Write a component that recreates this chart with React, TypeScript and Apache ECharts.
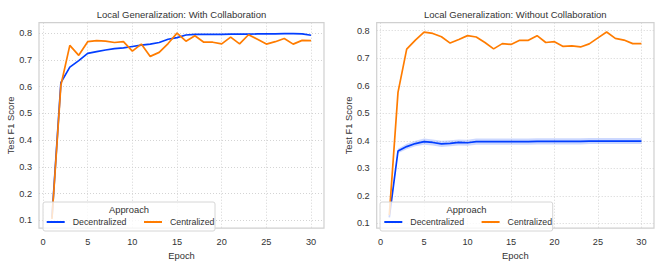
import React, { useEffect, useRef } from "react";
import * as echarts from "echarts";

const epochs = Array.from({ length: 30 }, (_, i) => i + 1);

const xTicks = [0, 5, 10, 15, 20, 25, 30];
const yTicks = [0.1, 0.2, 0.3, 0.4, 0.5, 0.6, 0.7, 0.8];

// Left panel: With Collaboration
const withDecentralized = [
  0.11, 0.615, 0.673, 0.697, 0.724, 0.731, 0.737, 0.742, 0.745, 0.75,
  0.755, 0.759, 0.765, 0.777, 0.783, 0.793, 0.795, 0.795, 0.795, 0.795,
  0.796, 0.796, 0.796, 0.797, 0.797, 0.797, 0.798, 0.798, 0.797, 0.792,
];
const withCentralized = [
  0.105, 0.605, 0.754, 0.717, 0.768, 0.772, 0.77, 0.765, 0.768, 0.733,
  0.759, 0.713, 0.728, 0.761, 0.8, 0.77, 0.79, 0.766, 0.766, 0.76,
  0.785, 0.76, 0.794, 0.777, 0.759, 0.768, 0.78, 0.759, 0.773, 0.772,
];

// Right panel: Without Collaboration
const withoutDecentralized = [
  0.122, 0.363, 0.379, 0.39, 0.397, 0.394, 0.389, 0.391, 0.394, 0.393,
  0.397, 0.397, 0.397, 0.397, 0.397, 0.397, 0.397, 0.398, 0.398, 0.398,
  0.398, 0.398, 0.398, 0.399, 0.399, 0.399, 0.399, 0.399, 0.399, 0.399,
];
const withoutDecentralizedSpread = [
  0.005, 0.008, 0.01, 0.01, 0.011, 0.011, 0.011, 0.011, 0.011, 0.011,
  0.011, 0.011, 0.011, 0.011, 0.011, 0.011, 0.011, 0.011, 0.011, 0.011,
  0.011, 0.011, 0.011, 0.011, 0.011, 0.011, 0.011, 0.011, 0.011, 0.011,
];
const withoutCentralized = [
  0.13, 0.576, 0.733, 0.766, 0.795, 0.79, 0.778, 0.755, 0.768, 0.782,
  0.777, 0.757, 0.734, 0.753, 0.75, 0.765, 0.765, 0.782, 0.757, 0.76,
  0.743, 0.745, 0.741, 0.752, 0.774, 0.795, 0.772, 0.766, 0.753, 0.753,
];

const titles = [
  "Local Generalization: With Collaboration",
  "Local Generalization: Without Collaboration",
];
const seriesNames = ["Decentralized", "Centralized"];
const legendTitle = "Approach";
const xName = "Epoch";
const yName = "Test F1 Score";

const BLUE = "#023eff";
const ORANGE = "#ff7c00";
const TEXT = "#333333";
const FONT = "Liberation Sans";

const pts = (vals: number[]) => vals.map((v, i) => [epochs[i], v]);

export default function App() {
  const ref = useRef<HTMLDivElement>(null);
  useEffect(() => {
    if (!ref.current) return;
    const chart = echarts.init(ref.current, undefined, { renderer: "svg" });

    const grids = [
      { left: 39, top: 22.7, width: 285, height: 211 },
      { left: 376.7, top: 22.7, width: 277.3, height: 211 },
    ];
    const yRanges = [
      [0.071, 0.839],
      [0.083, 0.829],
    ];

    const xAxes = grids.map((_, i) => ({
      type: "value",
      gridIndex: i,
      min: -0.45,
      max: 31.45,
      name: xName,
      nameLocation: "middle",
      nameGap: 21,
      nameTextStyle: { color: TEXT, fontSize: 9.4, fontFamily: FONT },
      axisLine: { show: false },
      axisTick: { show: false, customValues: xTicks },
      axisLabel: {
        customValues: xTicks,
        color: TEXT,
        fontSize: 9.2,
        fontFamily: FONT,
        margin: 9,
      },
      splitLine: {
        show: true,
        lineStyle: { color: "#cfcfcf", type: [1, 2], width: 0.9 },
      },
    }));

    const yAxes = grids.map((_, i) => ({
      type: "value",
      gridIndex: i,
      min: yRanges[i][0],
      max: yRanges[i][1],
      name: yName,
      nameLocation: "middle",
      nameGap: 21,
      nameTextStyle: { color: TEXT, fontSize: 9.4, fontFamily: FONT },
      axisLine: { show: false },
      axisTick: { show: false, customValues: yTicks },
      axisLabel: {
        customValues: yTicks,
        color: TEXT,
        fontSize: 9.2,
        fontFamily: FONT,
        margin: 7,
        formatter: (v: number) => v.toFixed(1),
      },
      splitLine: {
        show: true,
        lineStyle: { color: "#cfcfcf", type: [1, 2], width: 0.9 },
      },
    }));

    const lineSeries = (name: string, data: number[], idx: number, color: string) => ({
      type: "line",
      name,
      xAxisIndex: idx,
      yAxisIndex: idx,
      data: pts(data),
      symbol: "none",
      showSymbol: false,
      lineStyle: { color, width: 1.7 },
      itemStyle: { color },
      z: 2,
    });

    const bandSeries = {
      type: "custom",
      xAxisIndex: 1,
      yAxisIndex: 1,
      silent: true,
      z: 1,
      data: [[1, withoutDecentralized[0]]],
      renderItem: (_params: any, api: any) => {
        const upper = withoutDecentralized.map((v, i) =>
          api.coord([epochs[i], v + withoutDecentralizedSpread[i]])
        );
        const lower = withoutDecentralized
          .map((v, i) => api.coord([epochs[i], v - withoutDecentralizedSpread[i]]))
          .reverse();
        return {
          type: "polygon",
          shape: { points: upper.concat(lower) },
          style: { fill: "rgba(2,62,255,0.2)", stroke: "none" },
        };
      },
    };

    const legendBoxes = [
      { x: 43, w: 172, lineX: 46.7, center: 129 },
      { x: 380, w: 172.7, lineX: 384.3, center: 466.5 },
    ];

    const graphics: any[] = [];
    legendBoxes.forEach((b) => {
      graphics.push({
        type: "rect",
        shape: { x: b.x, y: 202, width: b.w, height: 29, r: 2 },
        style: { fill: "rgba(255,255,255,0.8)", stroke: "#d6d6d6", lineWidth: 1 },
        z: 10,
      });
      graphics.push({
        type: "text",
        x: b.center,
        y: 209.7,
        style: {
          text: legendTitle,
          fill: TEXT,
          font: `9.4px "${FONT}"`,
          textAlign: "center",
          textVerticalAlign: "middle",
        },
        z: 12,
      });
    });

    const option: any = {
      animation: false,
      backgroundColor: "#ffffff",
      title: [
        {
          text: titles[0],
          left: 181.5,
          top: 9,
          padding: 0,
          textAlign: "center",
          textStyle: { color: TEXT, fontSize: 9.5, fontWeight: "normal", fontFamily: FONT },
        },
        {
          text: titles[1],
          left: 515.3,
          top: 9,
          padding: 0,
          textAlign: "center",
          textStyle: { color: TEXT, fontSize: 9.5, fontWeight: "normal", fontFamily: FONT },
        },
      ],
      grid: grids.map((g) => ({
        ...g,
        show: true,
        borderColor: "#d0d0d0",
        borderWidth: 1.2,
        backgroundColor: "transparent",
        containLabel: false,
      })),
      xAxis: xAxes,
      yAxis: yAxes,
      legend: legendBoxes.map((b) => ({
        data: seriesNames.map((n) => ({ name: n, icon: "rect" })),
        left: b.lineX,
        top: 216,
        orient: "horizontal",
        itemWidth: 18,
        itemHeight: 2,
        itemGap: 17.5,
        padding: 0,
        z: 20,
        selectedMode: false,
        textStyle: {
          color: TEXT,
          fontSize: 8.8,
          fontFamily: FONT,
          padding: [0, 0, 0, 3],
          lineHeight: 12,
        },
      })),
      graphic: graphics,
      series: [
        lineSeries(seriesNames[0], withDecentralized, 0, BLUE),
        lineSeries(seriesNames[1], withCentralized, 0, ORANGE),
        bandSeries,
        lineSeries(seriesNames[0], withoutDecentralized, 1, BLUE),
        lineSeries(seriesNames[1], withoutCentralized, 1, ORANGE),
      ],
    };

    chart.setOption(option);
    return () => chart.dispose();
  }, []);

  return (
    <div
      ref={ref}
      style={{ position: "fixed", left: 0, top: 0, width: 659, height: 265 }}
    />
  );
}
